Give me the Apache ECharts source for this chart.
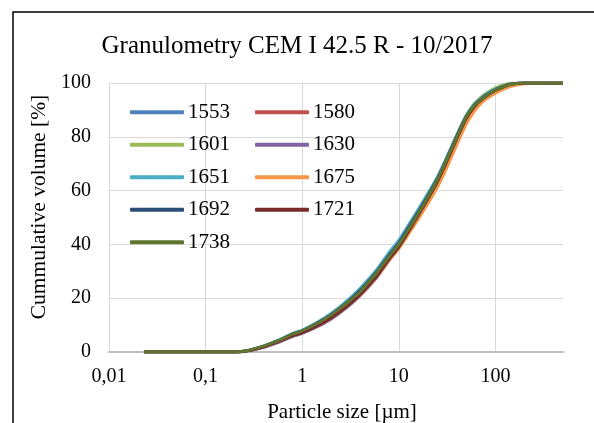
<!DOCTYPE html>
<html>
<head>
<meta charset="utf-8">
<script src="https://cdn.jsdelivr.net/npm/echarts@6/dist/echarts.min.js"></script>
<style>
  html, body { margin: 0; padding: 0; background: #fff; }
  #chart { width: 594px; height: 423px; }
</style>
</head>
<body>
<div id="chart"></div>
<script>
// Particle sizes in µm (log axis)
const sizes = [0.023, 0.05, 0.1, 0.15, 0.2, 0.25, 0.3, 0.4, 0.5, 0.6, 0.8, 1, 1.5, 2, 3, 4, 5, 6, 8, 10,
  15, 20, 25, 30, 40, 50, 60, 70, 80, 100, 125, 150, 200, 300, 500];

const names = ['1553', '1580', '1601', '1630', '1651', '1675', '1692', '1721', '1738'];
const colors = ['#4F81BD', '#C0504D', '#9BBB59', '#8064A2', '#4BACC6', '#F79646', '#2C4D75', '#772C2A', '#5F7530'];

// cumulative volume [%] per sample
const v1553 = [0, 0, 0, 0, 0, 0.3, 0.9, 2.2, 3.5, 4.6, 6.6, 7.8, 11.0, 13.7, 18.6, 22.8, 26.6, 30.0, 36.2, 40.6,
  50.8, 58.4, 64.6, 70.6, 80.6, 87.8, 91.8, 94.0, 95.6, 97.6, 99.0, 99.7, 100, 100, 100];
const v1580 = [0, 0, 0, 0, 0, 0.3, 0.8, 2.0, 3.3, 4.4, 6.3, 7.4, 10.4, 13.0, 17.8, 21.9, 25.6, 28.9, 35.0, 39.4,
  49.6, 57.2, 63.4, 69.4, 79.6, 87.0, 91.2, 93.5, 95.2, 97.3, 98.8, 99.6, 100, 100, 100];
const v1601 = [0, 0, 0, 0, 0, 0.3, 0.9, 2.2, 3.5, 4.6, 6.7, 7.9, 11.1, 13.8, 18.7, 22.9, 26.6, 29.9, 36.1, 40.4,
  50.5, 58.0, 64.3, 70.3, 80.6, 88.0, 92.2, 94.6, 96.2, 98.2, 99.5, 99.9, 100, 100, 100];
const v1630 = [0, 0, 0, 0, 0, 0.2, 0.6, 1.7, 2.9, 3.9, 5.8, 6.9, 9.8, 12.3, 17.0, 21.0, 24.7, 28.0, 34.2, 38.7,
  49.0, 56.7, 63.0, 69.0, 79.2, 86.7, 91.0, 93.4, 95.1, 97.2, 98.8, 99.6, 100, 100, 100];
const v1651 = [0, 0, 0, 0, 0, 0.3, 0.9, 2.3, 3.6, 4.8, 6.9, 8.1, 11.5, 14.4, 19.5, 23.8, 27.6, 31.0, 37.2, 41.6,
  51.6, 59.0, 65.0, 71.0, 80.8, 88.0, 92.0, 94.2, 95.8, 97.7, 99.1, 99.7, 100, 100, 100];
const v1675 = [0, 0, 0, 0, 0, 0.3, 0.8, 2.0, 3.2, 4.3, 6.2, 7.3, 10.2, 12.7, 17.4, 21.4, 25.0, 28.3, 34.2, 38.4,
  48.0, 55.2, 61.2, 67.0, 77.2, 84.8, 89.4, 92.2, 94.0, 96.2, 97.9, 98.9, 99.7, 100, 100];
const v1692 = [0, 0, 0, 0, 0, 0.3, 0.9, 2.2, 3.5, 4.6, 6.7, 7.9, 11.1, 13.9, 18.8, 23.0, 26.8, 30.1, 36.2, 40.5,
  50.6, 58.1, 64.3, 70.3, 80.4, 87.6, 91.6, 93.8, 95.4, 97.5, 98.9, 99.7, 100, 100, 100];
const v1721 = [0, 0, 0, 0, 0, 0.2, 0.7, 1.9, 3.1, 4.2, 6.1, 7.2, 10.1, 12.7, 17.4, 21.5, 25.2, 28.5, 34.7, 39.1,
  49.4, 57.0, 63.3, 69.3, 79.5, 86.9, 91.1, 93.4, 95.1, 97.2, 98.8, 99.6, 100, 100, 100];
const v1738 = [0, 0, 0, 0, 0, 0.3, 0.9, 2.2, 3.5, 4.6, 6.7, 7.9, 11.0, 13.8, 18.6, 22.5, 26.4, 29.8, 35.7, 40.0,
  50.0, 57.6, 64.0, 70.0, 80.0, 87.5, 91.5, 93.6, 95.2, 97.3, 98.8, 99.6, 100, 100, 100];

const values = [v1553, v1580, v1601, v1630, v1651, v1675, v1692, v1721, v1738];

const xTicks = { 0.01: '0,01', 0.1: '0,1', 1: '1', 10: '10', 100: '100' };

const chart = echarts.init(document.getElementById('chart'));
const font = '"Liberation Serif", "Times New Roman", serif';

chart.setOption({
  animation: false,
  color: colors,
  textStyle: { fontFamily: font, color: '#000' },
  title: {
    text: 'Granulometry CEM I 42.5 R - 10/2017',
    left: 'center',
    top: 29,
    textStyle: { fontFamily: font, fontSize: 25, fontWeight: 'normal', color: '#000' },
  },
  graphic: [{
    type: 'rect',
    shape: { x: 13, y: 12, width: 640, height: 500 },
    style: { fill: 'none', stroke: '#000', lineWidth: 1.5 },
    silent: true,
  }],
  legend: {
    left: 125,
    top: 91,
    width: 270,
    itemGap: 0,
    itemWidth: 54,
    itemHeight: 4,
    icon: 'roundRect',
    textStyle: { fontFamily: font, fontSize: 21, color: '#000', width: 67, lineHeight: 32.5, padding: [0, 0, 0, -1] },
    data: names,
  },
  grid: { left: 109, top: 83, right: 31, bottom: 71, outerBoundsMode: 'none' },
  xAxis: {
    type: 'log',
    logBase: 10,
    min: 0.01,
    max: 500,
    name: 'Particle size [µm]',
    nameLocation: 'middle',
    nameGap: 50,
    nameTextStyle: { fontFamily: font, fontSize: 21, color: '#000', padding: [0, 0, 0, 12] },
    axisLine: { show: true, lineStyle: { color: '#bfbfbf', width: 2 } },
    axisTick: { show: false },
    axisLabel: {
      fontFamily: font, fontSize: 20, color: '#000', margin: 15,
      showMaxLabel: false,
      formatter: v => xTicks[v] ?? '',
    },
    splitLine: { show: true, showMaxLine: false, lineStyle: { color: '#d9d9d9', width: 1 } },
  },
  yAxis: {
    type: 'value',
    min: 0,
    max: 100,
    interval: 20,
    name: 'Cummulative volume [%]',
    nameLocation: 'middle',
    nameGap: 54,
    nameTextStyle: { fontFamily: font, fontSize: 21.5, color: '#000', padding: [0, 0, 0, 21] },
    axisLine: { show: false },
    axisTick: { show: false },
    axisLabel: { fontFamily: font, fontSize: 20, color: '#000', margin: 18 },
    splitLine: { show: true, lineStyle: { color: '#d9d9d9', width: 1 } },
  },
  series: names.map((n, i) => ({
    name: n,
    type: 'line',
    data: sizes.map((s, j) => [s, values[i][j]]),
    showSymbol: false,
    smooth: 0.25,
    lineStyle: { width: 3, color: colors[i] },
    itemStyle: { color: colors[i] },
    z: 2 + i,
  })),
});
</script>
</body>
</html>
